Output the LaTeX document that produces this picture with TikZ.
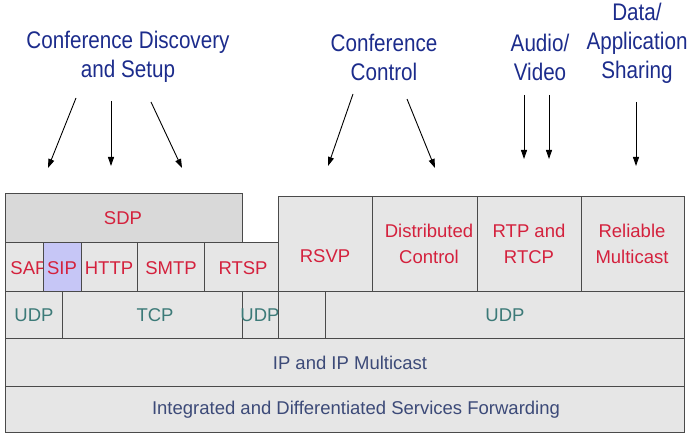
\documentclass[tikz,border=0pt]{standalone}
\usepackage{fontspec}
\setmainfont{Liberation Sans}
\newfontfamily\headfont[FakeStretch=0.86]{Liberation Sans}
\usetikzlibrary{arrows.meta}
\definecolor{cellfill}{HTML}{E6E6E6}
\definecolor{sdpfill}{HTML}{D9D9D9}
\definecolor{sipfill}{HTML}{C6C6F6}
\definecolor{bordercol}{HTML}{4A4A4A}
\definecolor{labred}{HTML}{D4213D}
\definecolor{udpteal}{HTML}{3C7A78}
\definecolor{ipblue}{HTML}{3C4A78}
\definecolor{headnavy}{HTML}{1C2C8C}
\newcommand\cellbox[6]{\node[cellbox,fill=#6,minimum width={#4-#2},minimum height={#5-#3}] (#1) at ({(#2+#4)/2},{(#3+#5)/2}) {};}
\begin{document}
\begin{tikzpicture}[x=1pt,y=-1pt,
  cellbox/.style={draw=bordercol,line width=1pt,inner sep=0pt,outer sep=0pt},
  lbl/.style={font=\fontsize{18.5}{26}\selectfont,align=center,inner sep=0pt},
  redlbl/.style={lbl,text=labred},
  udplbl/.style={lbl,text=udpteal},
  iplbl/.style={lbl,text=ipblue},
  head/.style={font=\headfont\fontsize{24}{29}\selectfont,align=center,text=headnavy,inner sep=0pt},
  arr/.style={line width=0.9pt,-{Triangle[length=9pt,width=6pt]}}]
\useasboundingbox[fill=white] (0,0) rectangle (692,438);

% headings
\node[head] (h1) at (128,57) {Conference Discovery\\and Setup};
\node[head] (h2) at (384,57) {Conference\\Control};
\node[head] (h3) at (540,57) {Audio/\\Video};
\node[head] (h4) at (637,43) {Data/\\Application\\Sharing};

% arrows
\coordinate (a1s) at (76,98);   \coordinate (a1e) at (48,168);
\coordinate (a2s) at (111,101); \coordinate (a2e) at (111,166);
\coordinate (a3s) at (151,102); \coordinate (a3e) at (182,168);
\coordinate (a4s) at (353,94);  \coordinate (a4e) at (328,166);
\coordinate (a5s) at (407,99);  \coordinate (a5e) at (435,168);
\coordinate (a6s) at (524,95);  \coordinate (a6e) at (524,159);
\coordinate (a7s) at (549,95);  \coordinate (a7e) at (549,159);
\coordinate (a8s) at (636,102); \coordinate (a8e) at (636,166);
\foreach \i in {1,...,8} {\draw[arr] (a\i s) -- (a\i e);}

% top row
\cellbox{sdp}{5}{194}{242}{242}{sdpfill}
\node[redlbl] (tsdp) at (123,218) {SDP};
\cellbox{rsvp}{278}{197}{372}{291}{cellfill}
\node[redlbl] (trsvp) at (325,256) {RSVP};
\cellbox{dist}{372}{197}{477}{291}{cellfill}
\node[redlbl] (tdist) at (429,244) {Distributed\\Control};
\cellbox{rtp}{477}{197}{581}{291}{cellfill}
\node[redlbl] (trtp) at (529,244) {RTP and\\RTCP};
\cellbox{rm}{581}{197}{684}{291}{cellfill}
\node[redlbl] (trm) at (632,244) {Reliable\\Multicast};

% application protocols row
\cellbox{sap}{5}{242}{43}{291}{cellfill}
\node[redlbl] (tsap) at (29,268) {SAP};
\cellbox{sip}{43}{242}{81}{291}{sipfill}
\node[redlbl] (tsip) at (62,268) {SIP};
\cellbox{http}{81}{242}{137}{291}{cellfill}
\node[redlbl] (thttp) at (109,268) {HTTP};
\cellbox{smtp}{137}{242}{204}{291}{cellfill}
\node[redlbl] (tsmtp) at (171,268) {SMTP};
\cellbox{rtsp}{204}{242}{278}{291}{cellfill}
\node[redlbl] (trtsp) at (243,268) {RTSP};

% transport row
\cellbox{udp1}{5}{291}{62}{338}{cellfill}
\node[udplbl] (tudp1) at (34,315) {UDP};
\cellbox{tcp}{62}{291}{242}{338}{cellfill}
\node[udplbl] (ttcp) at (155,315) {TCP};
\cellbox{udp2}{242}{291}{278}{338}{cellfill}
\node[udplbl] (tudp2) at (260,315) {UDP};
\cellbox{empty}{278}{291}{325}{338}{cellfill}
\cellbox{udp3}{325}{291}{684}{338}{cellfill}
\node[udplbl] (tudp3) at (505,315) {UDP};

% network rows
\cellbox{ip}{5}{338}{684}{386}{cellfill}
\node[iplbl] (tip) at (350,363) {IP and IP Multicast};
\cellbox{isf}{5}{386}{684}{432}{cellfill}
\node[iplbl] (tisf) at (356,410) {Integrated and Differentiated Services Forwarding};
\end{tikzpicture}
\end{document}
